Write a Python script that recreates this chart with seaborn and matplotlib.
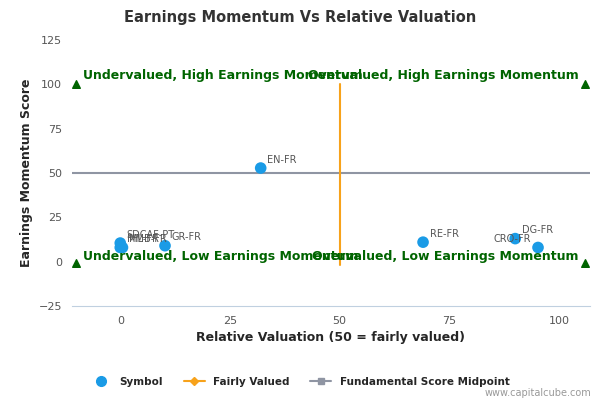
import numpy as np
import pandas as pd
import seaborn as sns
import matplotlib.pyplot as plt
from matplotlib.lines import Line2D

# point data
symbols = ['EN-FR', 'RE-FR', 'DG-FR', 'CRO-FR', 'GR-FR', 'SDCAF-PT', 'MMB-FR', 'ML-FR']
valuation = [32, 69, 90, 95.2, 10.2, 0, 0, 0.5]
momentum = [52.8, 11, 13, 8, 9, 10.5, 8, 8]

corner_x = [-10, 106, -10, 106]
corner_y = [100, 100, -1, -1]

df = pd.DataFrame({'Symbol': symbols, 'x': valuation, 'y': momentum})

sns.set_style('white')
fig, ax = plt.subplots(figsize=(6, 4), dpi=100)
fig.subplots_adjust(left=0.12, right=0.983, top=0.9, bottom=0.235)

ax.plot([-12, 108], [50, 50], color='#8f95a3', lw=1.5, zorder=1)
ax.plot([50, 50], [-2, 100], color='#f7a21b', lw=1.5, zorder=1)
sns.scatterplot(data=df, x='x', y='y', color='#1a9be6', s=70, edgecolor='none', ax=ax, zorder=3)
ax.scatter(corner_x, corner_y, marker='^', color='#006400', s=30, zorder=3)

for s, x, y in zip(symbols, valuation, momentum):
    if s == 'CRO-FR':
        ax.text(x - 1.5, y + 3, s, fontsize=7, color='#555555', ha='right')
    else:
        ax.text(x + 1.5, y + 3, s, fontsize=7, color='#555555')

green = '#006400'
qfont = dict(color=green, fontsize=9, fontweight='bold')
ax.text(-8.5, 103, 'Undervalued, High Earnings Momentum', **qfont)
ax.text(104.5, 103, 'Overvalued, High Earnings Momentum', ha='right', **qfont)
ax.text(-8.5, 1, 'Undervalued, Low Earnings Momentum', **qfont)
ax.text(104.5, 1, 'Overvalued, Low Earnings Momentum', ha='right', **qfont)

ax.set_xlim(-11, 107)
ax.set_ylim(-25, 125)
ax.set_xticks([0, 25, 50, 75, 100])
ax.set_yticks([-25, 0, 25, 50, 75, 100, 125])
ax.tick_params(labelsize=8, colors='#555555')
ax.grid(False)
for sp in ['top', 'right', 'left']:
    ax.spines[sp].set_visible(False)
ax.spines['bottom'].set_color('#c0d0e0')
ax.set_xlabel('Relative Valuation (50 = fairly valued)', fontsize=9, fontweight='bold')
ax.set_ylabel('Earnings Momentum Score', fontsize=9, fontweight='bold')
fig.suptitle('Earnings Momentum Vs Relative Valuation', fontsize=10.5, fontweight='bold', color='#333333', x=0.5, y=0.975)

handles = [Line2D([], [], marker='o', color='#1a9be6', ls='none', ms=7),
           Line2D([], [], marker='D', color='#f7a21b', ms=4),
           Line2D([], [], marker='s', color='#8f95a3', ms=5)]
fig.legend(handles, ['Symbol', 'Fairly Valued', 'Fundamental Score Midpoint'], loc='lower center',
           ncol=3, frameon=False, bbox_to_anchor=(0.5, 0.01), prop={'weight': 'bold', 'size': 7.5})
fig.text(0.985, 0.01, 'www.capitalcube.com', ha='right', fontsize=7, color='#999999')

plt.savefig('out.png')
